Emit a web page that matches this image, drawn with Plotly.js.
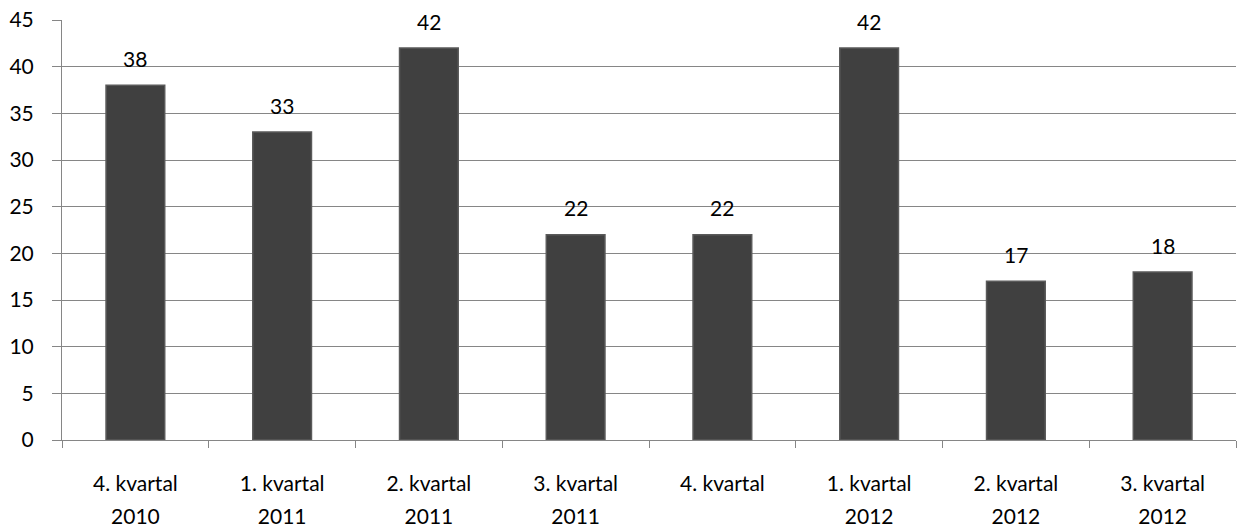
<!DOCTYPE html>
<html><head><meta charset="utf-8">
<script src="https://cdn.plot.ly/plotly-3.0.1.min.js"></script>
<style>html,body{margin:0;padding:0;background:#fff}#chart{width:1239px;height:529px}</style>
</head><body><div id="chart"></div>
<script>
const categories = ["4. kvartal 2010","1. kvartal 2011","2. kvartal 2011","3. kvartal 2011","4. kvartal 2011","1. kvartal 2012","2. kvartal 2012","3. kvartal 2012"];
const quarterLabels = ["4. kvartal","1. kvartal","2. kvartal","3. kvartal","4. kvartal","1. kvartal","2. kvartal","3. kvartal"];
const yearLabels = ["2010","2011","2011","2011","","2012","2012","2012"];
const values = [38,33,42,22,22,42,17,18];
const yTicks = [0,5,10,15,20,25,30,35,40,45];

const FONT = "Lato, 'Open Sans', sans-serif";
const FS = 21;
const traces = [
  {type:'bar', x:categories, y:values, xaxis:'x', yaxis:'y',
   marker:{color:'#404040', line:{color:'#5a5a5a', width:1.5}},
   hoverinfo:'none', showlegend:false},
  {type:'bar', x:categories, y:values.map(()=>0), xaxis:'x2', yaxis:'y',
   marker:{color:'rgba(0,0,0,0)'}, hoverinfo:'none', showlegend:false}
];
const annotations = categories.map((c,i)=>({
  x:c, y:values[i], xref:'x', yref:'y', text:String(values[i]), showarrow:false,
  yanchor:'middle', yshift:27, font:{family:FONT, size:FS, color:'#000'}
}));
const layout = {
  width:1239, height:529,
  margin:{l:62, r:3, t:20, b:89},
  paper_bgcolor:'#fff', plot_bgcolor:'#fff',
  bargap:0.6, showlegend:false,
  font:{family:FONT, size:FS, color:'#000'},
  xaxis:{type:'category', categoryorder:'array', categoryarray:categories,
    tickmode:'array', tickvals:categories, ticktext:quarterLabels,
    tickson:'boundaries', ticks:'outside', ticklen:7, tickcolor:'#868686',
    showline:true, linecolor:'#868686', linewidth:1, showgrid:false, zeroline:false,
    ticklabelstandoff:25, tickfont:{family:FONT, size:FS, color:'#000'}, fixedrange:true},
  xaxis2:{type:'category', matches:'x', overlaying:'x', side:'bottom', anchor:'y',
    categoryorder:'array', categoryarray:categories,
    tickmode:'array', tickvals:categories, ticktext:yearLabels,
    ticks:'', showline:false, showgrid:false, zeroline:false,
    ticklabelstandoff:62, tickfont:{family:FONT, size:FS, color:'#000'}},
  yaxis:{range:[0,45], tickmode:'array', tickvals:yTicks, ticktext:yTicks.map(String),
    ticks:'outside', ticklen:9, tickcolor:'#868686',
    showline:true, linecolor:'#868686', linewidth:1,
    showgrid:true, gridcolor:'#868686', gridwidth:1, zeroline:false,
    ticklabelstandoff:14, tickfont:{family:FONT, size:FS, color:'#000'}, fixedrange:true},
  annotations:annotations
};
Plotly.newPlot('chart', traces, layout, {displayModeBar:false, staticPlot:true});
</script></body></html>
